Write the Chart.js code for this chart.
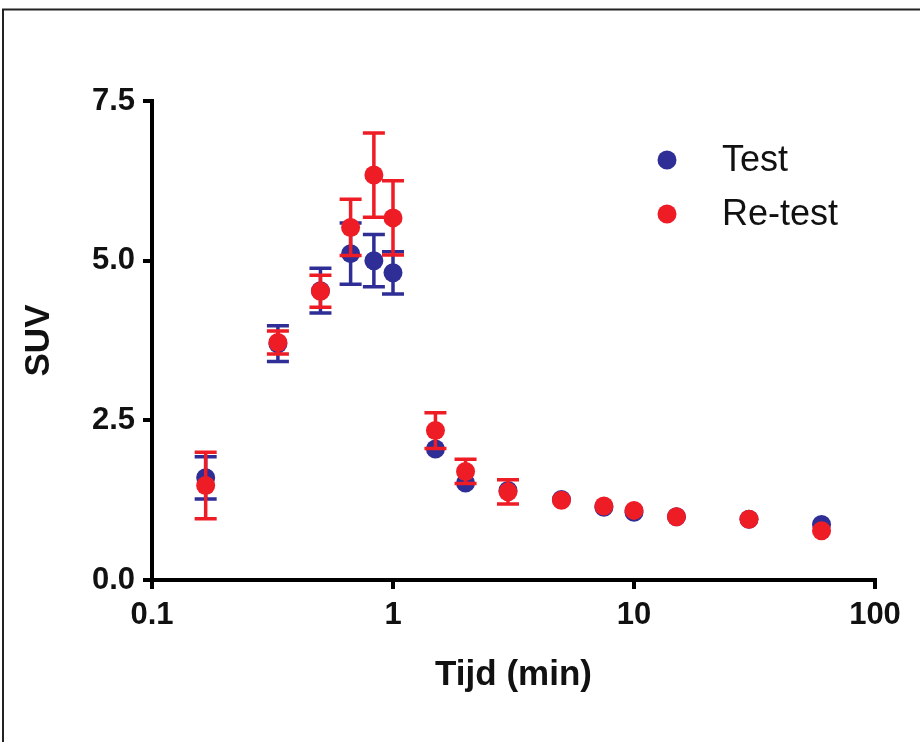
<!DOCTYPE html>
<html>
<head>
<meta charset="utf-8">
<script src="https://cdn.jsdelivr.net/npm/chart.js@4.4.1/dist/chart.umd.min.js"></script>
<style>
  html, body { margin: 0; padding: 0; background: #ffffff; }
  #wrap { width: 920px; height: 742px; position: relative; }
</style>
</head>
<body>
<div id="wrap"><canvas id="c" width="920" height="742"></canvas></div>
<script>
// ---- data ----
const timeMin   = [0.167, 0.333, 0.5, 0.667, 0.833, 1, 1.5, 2, 3, 5, 7.5, 10, 15, 30, 60];
const testSUV   = [1.60, 3.70, 4.53, 5.11, 5.00, 4.81, 2.05, 1.52, 1.40, 1.26, 1.14, 1.06, 0.99, 0.95, 0.87];
const testErr   = [0.33, 0.28, 0.35, 0.48, 0.41, 0.33, 0.06, 0.06, 0.05, 0.04, 0.04, 0.04, 0.03, 0.03, 0.03];
const retestSUV = [1.48, 3.72, 4.52, 5.52, 6.34, 5.67, 2.34, 1.70, 1.38, 1.25, 1.16, 1.09, 0.99, 0.95, 0.77];
const retestErr = [0.52, 0.18, 0.25, 0.44, 0.66, 0.58, 0.28, 0.19, 0.19, 0.05, 0.05, 0.04, 0.04, 0.03, 0.03];
const seriesLabels = ['Test', 'Re-test'];
const xTickValues = [0.1, 1, 10, 100];
const yTickValues = [0, 2.5, 5, 7.5];
const xTitle = 'Tijd (min)';
const yTitle = 'SUV';

const BLUE = '#2E2E96';
const RED = '#EE1C25';
const FONT = "'Liberation Sans', Arial, Helvetica, sans-serif";
const POINT_R = 9.5;

function toPoints(xs, ys) { return xs.map((x, i) => ({ x: x, y: ys[i] })); }

const errorBarPlugin = {
  id: 'errorBars',
  beforeDatasetDraw(chart, args) {
    const ds = chart.data.datasets[args.index];
    if (!ds.errors) return;
    const xs = chart.scales.x, ys = chart.scales.y;
    const ctx = chart.ctx;
    ctx.save();
    ctx.strokeStyle = ds.backgroundColor;
    ctx.lineWidth = 3.5;
    ctx.lineCap = 'butt';
    ds.data.forEach((p, i) => {
      const e = ds.errors[i];
      const px = xs.getPixelForValue(p.x);
      const cy = ys.getPixelForValue(p.y);
      const top = ys.getPixelForValue(p.y + e);
      const bot = ys.getPixelForValue(p.y - e);
      // like the source software: bars shorter than the symbol are hidden behind it
      if (cy - top < POINT_R) return;
      ctx.beginPath();
      ctx.moveTo(px, top); ctx.lineTo(px, bot);
      ctx.moveTo(px - 11, top); ctx.lineTo(px + 11, top);
      ctx.moveTo(px - 11, bot); ctx.lineTo(px + 11, bot);
      ctx.stroke();
    });
    ctx.restore();
  }
};

const legendAndFramePlugin = {
  id: 'customLegendFrame',
  afterDraw(chart) {
    const ctx = chart.ctx;
    ctx.save();
    // frame (left and top edges of the figure border)
    ctx.strokeStyle = '#222';
    ctx.lineWidth = 2;
    ctx.beginPath();
    ctx.moveTo(3, 742); ctx.lineTo(3, 9.5); ctx.lineTo(920, 9.5);
    ctx.stroke();
    // legend
    const x0 = 667, y0 = 160, dy = 54;
    chart.data.datasets.forEach((ds, i) => {
      const y = y0 + i * dy;
      ctx.fillStyle = ds.backgroundColor;
      ctx.beginPath();
      ctx.arc(x0, y, 9.5, 0, Math.PI * 2);
      ctx.fill();
      ctx.fillStyle = '#111';
      ctx.font = '36px ' + FONT;
      ctx.textBaseline = 'middle';
      ctx.textAlign = 'left';
      ctx.fillText(ds.label, 722, y + 1);
    });
    ctx.restore();
  }
};

new Chart(document.getElementById('c'), {
  type: 'scatter',
  data: {
    datasets: [
      { label: seriesLabels[0], data: toPoints(timeMin, testSUV), errors: testErr,
        backgroundColor: BLUE, borderColor: BLUE, pointRadius: POINT_R, pointBorderWidth: 0, order: 2 },
      { label: seriesLabels[1], data: toPoints(timeMin, retestSUV), errors: retestErr,
        backgroundColor: RED, borderColor: RED, pointRadius: POINT_R, pointBorderWidth: 0, order: 1 }
    ]
  },
  plugins: [errorBarPlugin, legendAndFramePlugin],
  options: {
    responsive: false,
    animation: false,
    layout: { padding: { left: 14, top: 101, right: 45, bottom: 42 } },
    plugins: { legend: { display: false }, tooltip: { enabled: false } },
    scales: {
      x: {
        type: 'logarithmic',
        min: 0.1, max: 100,
        afterBuildTicks: (s) => { s.ticks = xTickValues.map(v => ({ value: v })); },
        afterFit: (s) => { s.height = 120; },
        ticks: {
          color: '#111', padding: 8, maxRotation: 0, autoSkip: false,
          font: { family: FONT, size: 31, weight: 'bold' },
          callback: (v) => String(v)
        },
        grid: { drawOnChartArea: false, drawTicks: true, tickLength: 9, color: '#000', lineWidth: 4 },
        border: { display: true, color: '#000', width: 4 },
        title: { display: true, text: xTitle, color: '#111', font: { family: FONT, size: 35, weight: 'bold' } }
      },
      y: {
        min: 0, max: 7.5,
        afterBuildTicks: (s) => { s.ticks = yTickValues.map(v => ({ value: v })); },
        afterFit: (s) => { s.width = 138; },
        ticks: {
          color: '#111', padding: 8,
          font: { family: FONT, size: 31, weight: 'bold' },
          callback: (v) => Number(v).toFixed(1)
        },
        grid: { drawOnChartArea: false, drawTicks: true, tickLength: 9, color: '#000', lineWidth: 4 },
        border: { display: true, color: '#000', width: 4 },
        title: { display: true, text: yTitle, color: '#111', font: { family: FONT, size: 35, weight: 'bold' } }
      }
    }
  }
});
</script>
</body>
</html>
